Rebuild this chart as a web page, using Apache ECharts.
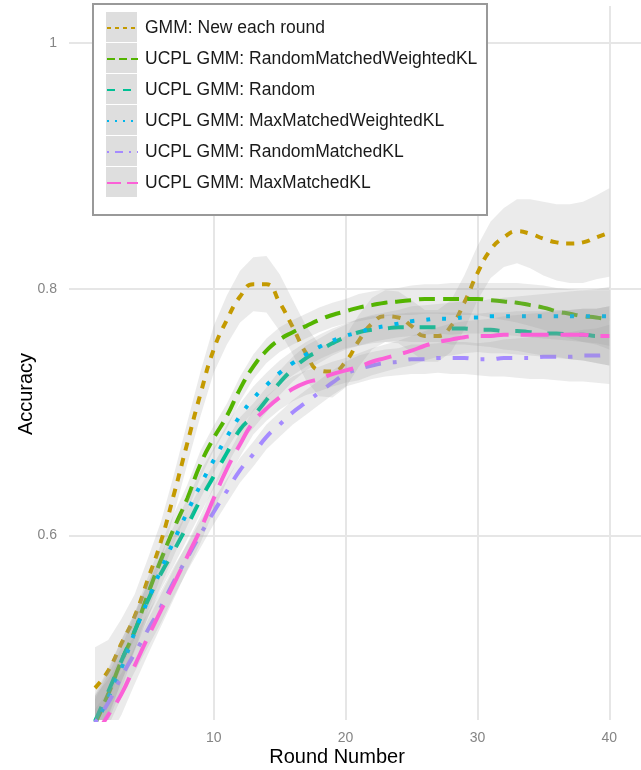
<!DOCTYPE html>
<html>
<head>
<meta charset="utf-8">
<title>Accuracy by round</title>
<script src="https://cdn.jsdelivr.net/npm/echarts@6/dist/echarts.min.js"></script>
<style>
  html, body { margin: 0; padding: 0; background: #fff; }
  #chart { width: 641px; height: 770px; }
</style>
</head>
<body>
<div id="chart"></div>
<script>
const rounds = [1, 2, 3, 4, 5, 6, 7, 8, 9, 10, 11, 12, 13, 14, 15, 16, 17, 18, 19, 20,
  21, 22, 23, 24, 25, 26, 27, 28, 29, 30, 31, 32, 33, 34, 35, 36, 37, 38, 39, 40]

// smoothed accuracy per method
const gmmNew = [0.476, 0.490, 0.512, 0.534, 0.564, 0.595, 0.634, 0.675, 0.715, 0.751,
  0.775, 0.794, 0.804, 0.804, 0.789, 0.769, 0.748, 0.734, 0.733, 0.741,
  0.758, 0.772, 0.778, 0.777, 0.770, 0.762, 0.762, 0.770, 0.789, 0.813,
  0.832, 0.842, 0.847, 0.845, 0.841, 0.838, 0.837, 0.838, 0.842, 0.846]
const randomMatchedWeightedKL = [0.447, 0.471, 0.498, 0.522, 0.552, 0.580, 0.606, 0.630, 0.658, 0.679,
  0.697, 0.719, 0.737, 0.750, 0.759, 0.765, 0.770, 0.775, 0.779, 0.782,
  0.785, 0.787, 0.789, 0.790, 0.791, 0.792, 0.792, 0.792, 0.792, 0.792,
  0.791, 0.790, 0.789, 0.787, 0.785, 0.782, 0.780, 0.778, 0.777, 0.775]
const randomPick = [0.449, 0.473, 0.498, 0.522, 0.547, 0.569, 0.588, 0.608, 0.629, 0.648,
  0.667, 0.686, 0.697, 0.710, 0.724, 0.735, 0.744, 0.750, 0.756, 0.761,
  0.765, 0.767, 0.768, 0.769, 0.769, 0.769, 0.769, 0.768, 0.768, 0.767,
  0.767, 0.766, 0.766, 0.765, 0.764, 0.764, 0.763, 0.763, 0.762, 0.762]
const maxMatchedWeightedKL = [0.445, 0.468, 0.492, 0.521, 0.547, 0.572, 0.596, 0.619, 0.641, 0.661,
  0.680, 0.697, 0.711, 0.722, 0.732, 0.740, 0.747, 0.753, 0.758, 0.762,
  0.765, 0.768, 0.770, 0.772, 0.774, 0.775, 0.776, 0.776, 0.777, 0.777,
  0.778, 0.778, 0.778, 0.778, 0.778, 0.778, 0.778, 0.778, 0.778, 0.778]
const randomMatchedKL = [0.448, 0.464, 0.485, 0.504, 0.523, 0.542, 0.563, 0.582, 0.601, 0.619,
  0.636, 0.653, 0.666, 0.680, 0.690, 0.700, 0.708, 0.716, 0.724, 0.731,
  0.735, 0.738, 0.740, 0.741, 0.743, 0.743, 0.744, 0.744, 0.744, 0.743,
  0.743, 0.744, 0.744, 0.744, 0.745, 0.745, 0.745, 0.746, 0.746, 0.747]
const maxMatchedKL = [0.437, 0.454, 0.471, 0.494, 0.517, 0.539, 0.561, 0.583, 0.605, 0.630,
  0.654, 0.674, 0.692, 0.703, 0.712, 0.719, 0.724, 0.727, 0.731, 0.734,
  0.737, 0.741, 0.744, 0.747, 0.750, 0.754, 0.757, 0.759, 0.761, 0.762,
  0.762, 0.763, 0.763, 0.763, 0.763, 0.763, 0.763, 0.763, 0.762, 0.762]

// half width of the grey confidence ribbons
const gmmBand = [0.033, 0.025, 0.020, 0.018, 0.017, 0.016, 0.016, 0.017, 0.018, 0.019,
  0.020, 0.021, 0.022, 0.023, 0.023, 0.022, 0.022, 0.021, 0.021, 0.021,
  0.021, 0.021, 0.021, 0.021, 0.021, 0.021, 0.021, 0.021, 0.022, 0.022,
  0.023, 0.024, 0.026, 0.028, 0.030, 0.031, 0.032, 0.033, 0.034, 0.036]
const ucplBand = [0.022, 0.019, 0.017, 0.015, 0.014, 0.013, 0.012, 0.011, 0.011, 0.010,
  0.010, 0.010, 0.010, 0.010, 0.010, 0.010, 0.010, 0.010, 0.010, 0.010,
  0.011, 0.011, 0.011, 0.011, 0.012, 0.012, 0.012, 0.013, 0.013, 0.013,
  0.014, 0.015, 0.016, 0.017, 0.018, 0.019, 0.020, 0.021, 0.022, 0.024]

const seriesNames = [
  'GMM: New each round',
  'UCPL GMM: RandomMatchedWeightedKL',
  'UCPL GMM: Random',
  'UCPL GMM: MaxMatchedWeightedKL',
  'UCPL GMM: RandomMatchedKL',
  'UCPL GMM: MaxMatchedKL'
]
const xTicks = [10, 20, 30, 40]
const yTicks = [0.6, 0.8, 1]

const means = [gmmNew, randomMatchedWeightedKL, randomPick, maxMatchedWeightedKL, randomMatchedKL, maxMatchedKL]
const bands = [gmmBand, ucplBand, ucplBand, ucplBand, ucplBand, ucplBand]
const colors = ['#C49A00', '#53B400', '#00C094', '#00B6EB', '#A58AFF', '#FB61D7']
const dashes = [[8, 8], [16, 8], [16, 16], [4, 12], [4, 12, 16, 12], [28, 12]]
const FONT = '"Liberation Sans", Arial, sans-serif'

const chart = echarts.init(document.getElementById('chart'), null, { renderer: 'canvas' })

const series = []
means.forEach((m, i) => {
  const rows = rounds.map((x, j) => [x, m[j] - bands[i][j], m[j] + bands[i][j]])
  // grey ribbon, one polygon per method; later ribbons sit over earlier lines
  series.push({
    name: 'band' + i,
    type: 'custom',
    clip: true,
    silent: true,
    z: 2 + 2 * i,
    data: rows,
    encode: { x: 0, y: [1, 2] },
    renderItem: function (params, api) {
      if (params.dataIndex !== 0) return
      const upper = rows.map(r => api.coord([r[0], r[2]]))
      const lower = rows.map(r => api.coord([r[0], r[1]])).reverse()
      return {
        type: 'polygon',
        shape: { points: upper.concat(lower) },
        style: { fill: 'rgba(153,153,153,0.2)' }
      }
    }
  })
  series.push({
    name: seriesNames[i],
    type: 'line',
    smooth: true,
    symbol: 'none',
    z: 3 + 2 * i,
    data: rounds.map((x, j) => [x, m[j]]),
    lineStyle: { color: colors[i], width: 4, type: dashes[i], cap: 'butt' },
    itemStyle: { color: colors[i] }
  })
})

// legend box and grey key squares
const graphics = [{
  type: 'rect',
  z: 20,
  shape: { x: 93, y: 4, width: 394, height: 211 },
  style: { fill: '#fff', stroke: '#999', lineWidth: 2 }
}]
seriesNames.forEach((n, i) => {
  graphics.push({
    type: 'rect',
    z: 21,
    shape: { x: 106, y: 12 + 31 * i, width: 31, height: 30 },
    style: { fill: '#dedede' }
  })
})

const option = {
  animation: false,
  backgroundColor: '#fff',
  grid: { left: 69, right: 0, top: 6, bottom: 50, outerBoundsMode: 'none' },
  graphic: graphics,
  legend: {
    orient: 'vertical',
    left: 106,
    top: 19,
    padding: 0,
    itemGap: 13,
    itemWidth: 31,
    itemHeight: 20,
    selectedMode: false,
    z: 22,
    textStyle: { fontSize: 17.5, color: '#1a1a1a', fontFamily: FONT, padding: [0, 0, 0, 2] },
    data: seriesNames.map((n, i) => ({
      name: n,
      itemStyle: { opacity: 0 },
      lineStyle: { color: colors[i], width: 2, type: dashes[i].map(d => d / 2), cap: 'butt' }
    }))
  },
  xAxis: {
    type: 'value',
    min: -0.973,
    max: 42.4,
    name: 'Round Number',
    nameLocation: 'middle',
    nameGap: 27,
    nameMoveOverlap: false,
    nameTextStyle: { fontSize: 20, color: '#000', fontFamily: FONT, padding: [0, 36, 0, 0] },
    axisLine: { show: false },
    axisTick: { show: false, customValues: xTicks },
    axisLabel: { customValues: xTicks, color: '#858585', fontSize: 14, fontFamily: FONT, margin: 11 },
    splitLine: { show: true, lineStyle: { color: '#e6e6e6', width: 2 } }
  },
  yAxis: {
    type: 'value',
    min: 0.45,
    max: 1.03,
    name: 'Accuracy',
    nameLocation: 'middle',
    nameGap: 33,
    nameMoveOverlap: false,
    nameTextStyle: { fontSize: 20, color: '#000', fontFamily: FONT, padding: [0, 62, 0, 0] },
    axisLine: { show: false },
    axisTick: { show: false, customValues: yTicks },
    axisLabel: {
      customValues: yTicks,
      color: '#858585',
      fontSize: 14,
      fontFamily: FONT,
      margin: 12,
      formatter: v => String(Math.round(v * 10) / 10)
    },
    splitLine: { show: true, lineStyle: { color: '#e6e6e6', width: 2 } }
  },
  series: series
}

chart.setOption(option)
</script>
</body>
</html>
